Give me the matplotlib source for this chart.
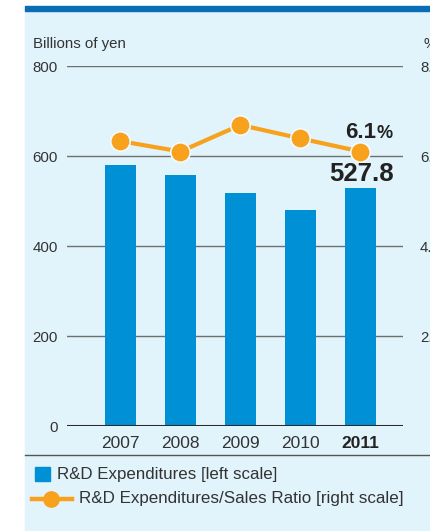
import matplotlib
matplotlib.use("Agg")
import matplotlib.pyplot as plt
from matplotlib.patches import Rectangle
from matplotlib.lines import Line2D

plt.rcParams['font.family'] = ['Liberation Sans', 'DejaVu Sans']

years = ["2007", "2008", "2009", "2010", "2011"]
rd_expenditures = [580.0, 558.0, 518.0, 480.0, 527.8]   # billions of yen
rd_sales_ratio = [6.33, 6.1, 6.69, 6.39, 6.1]            # percent

BG = "#e1f3fb"
BAR = "#0090d6"
ORANGE = "#f7a11c"
BAND = "#0a6cb4"
TEXT = "#333333"
GRID = "#6f6f6f"

W, H = 430, 531
fig = plt.figure(figsize=(W / 100, H / 100), dpi=100)
fig.patch.set_facecolor("white")

def px(x, y):
    """Figure fraction from pixel coords measured from the top-left."""
    return x / W, 1 - y / H

# panel background and header band
fig.patches.append(Rectangle((25 / W, 0), 1 - 25 / W, 1 - 11 / H,
                             transform=fig.transFigure, color=BG, zorder=-2))
fig.patches.append(Rectangle((25 / W, 1 - 11 / H), 1 - 25 / W, 5 / H,
                             transform=fig.transFigure, color=BAND, zorder=-2))

# plot area: 0 at y=426 px, 800 at y=66 px, x from 67 to 403 px
left, right, top, bottom = 67, 403, 66, 426
ax = fig.add_axes([left / W, 1 - bottom / H, (right - left) / W, (bottom - top) / H])
ax.set_facecolor("none")
ax2 = ax.twinx()
ax2.set_facecolor("none")

xs = list(range(len(years)))
ax.bar(xs, rd_expenditures, width=0.53, color=BAR, zorder=3)
ax.set_xlim(-0.89, 4.71)
ax.set_ylim(0, 800)
for v in (200, 400, 600, 800):
    ax.axhline(v, color=GRID, lw=1.0, zorder=1)
ax.axhline(0, color="#2a2a2a", lw=2.2, zorder=4)

for a in (ax, ax2):
    for s in a.spines.values():
        s.set_visible(False)

ax.set_yticks([0, 200, 400, 600, 800])
ax.set_yticklabels(["0", "200", "400", "600", "800"])
ax.tick_params(axis="y", length=0, pad=6.5, labelsize=10.8, labelcolor=TEXT)
ax.set_xticks(xs)
ax.set_xticklabels(years)
ax.tick_params(axis="x", length=0, pad=7, labelsize=12.5, labelcolor=TEXT)
ax.get_xticklabels()[-1].set_fontweight("bold")
ax.get_xticklabels()[-1].set_color("#222222")

ax2.set_ylim(0, 8)
ax2.set_yticks([2, 4, 6, 8])
ax2.set_yticklabels(["2.0", "4.0", "6.0", "8.0"])
ax2.tick_params(axis="y", length=0, pad=12.2, labelsize=10.8, labelcolor=TEXT)
ax2.plot(xs, rd_sales_ratio, color=ORANGE, lw=3.0, marker="o", ms=14,
         mfc=ORANGE, mec="#f4fafd", mew=1.2, zorder=5, solid_capstyle="butt")

# value labels for the latest year
ax2.annotate(f"{rd_sales_ratio[-1]:.1f}", (xs[-1], rd_sales_ratio[-1]),
             xytext=(16, 13.5), textcoords="offset pixels", ha="right",
             va="baseline", fontsize=16, fontweight="bold", color="#222222")
ax2.annotate("%", (xs[-1], rd_sales_ratio[-1]),
             xytext=(16, 13.5), textcoords="offset pixels", ha="left",
             va="baseline", fontsize=13, fontweight="bold", color="#222222")
ax.annotate(f"{rd_expenditures[-1]:.1f}", (xs[-1], rd_expenditures[-1]),
            xytext=(1, 7), textcoords="offset pixels", ha="center",
            va="baseline", fontsize=18.5, fontweight="bold", color="#222222")

# axis unit captions
fig.text(*px(33, 44), "Billions of yen", ha="left", va="center",
         fontsize=10.8, color=TEXT)
fig.text(*px(424, 44), "%", ha="left", va="center", fontsize=10.8, color=TEXT)

# separator under the chart
fig.lines.append(Line2D([25 / W, 1], [1 - 455 / H] * 2, transform=fig.transFigure,
                        color="#555555", lw=1.0))

# legend
fig.patches.append(Rectangle(px(35, 481), 15 / W, 14 / H, transform=fig.transFigure,
                             color=BAR))
fig.text(*px(57, 474), "R&D Expenditures [left scale]", ha="left", va="center",
         fontsize=12.2, color=TEXT)
fig.lines.append(Line2D([32 / W, 72 / W], [1 - 499 / H] * 2, transform=fig.transFigure,
                        color=ORANGE, lw=3.2))
fig.lines.append(Line2D([51 / W], [1 - 499 / H], transform=fig.transFigure,
                        marker="o", ms=11, color=ORANGE, mec=ORANGE))
fig.text(*px(79, 499), "R&D Expenditures/Sales Ratio [right scale]", ha="left",
         va="center", fontsize=12.25, color=TEXT)

fig.savefig("out.png", dpi=100, facecolor=fig.get_facecolor())
